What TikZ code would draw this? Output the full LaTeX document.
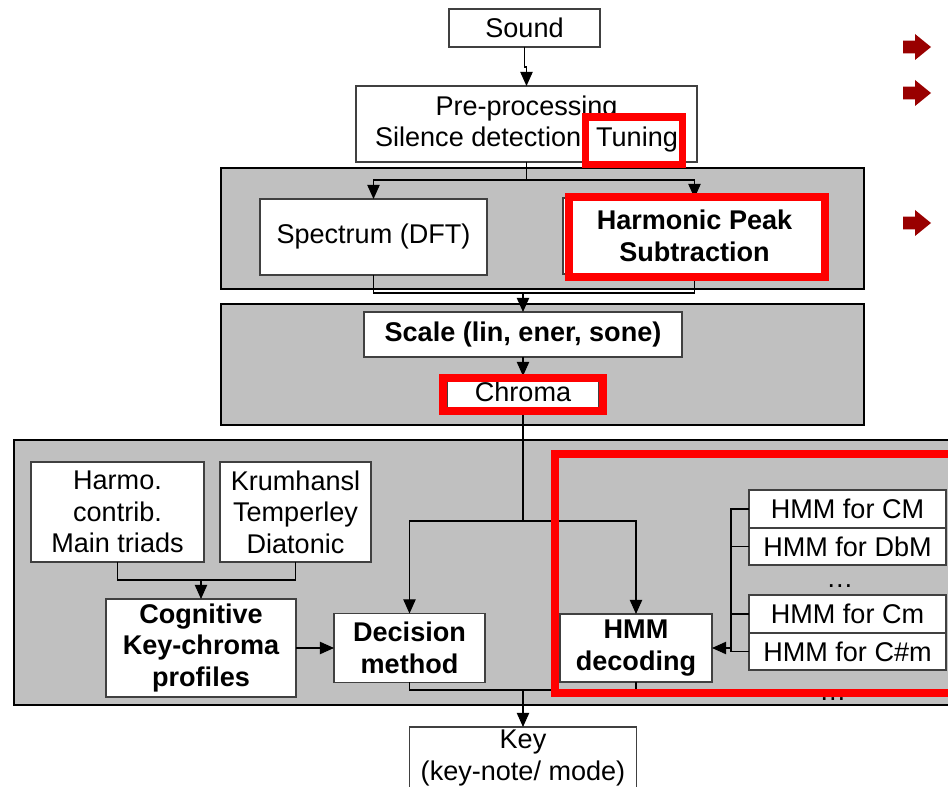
\documentclass[tikz,border=0pt]{standalone}
\usepackage{fontspec}
\setmainfont{Liberation Sans}
\usetikzlibrary{arrows.meta}
\definecolor{panelgray}{HTML}{C0C0C0}
\definecolor{boxline}{HTML}{404040}
\definecolor{bulletred}{HTML}{990000}
\newcommand\diagfont{\fontsize{15.4pt}{17.9pt}\selectfont}

\begin{document}
\begin{tikzpicture}[x=0.02cm, y=-0.02cm,
  panel/.style={fill=panelgray, draw=black, line width=0.6pt},
  box/.style={draw=boxline, fill=white, line width=0.6pt, inner sep=0pt,
    outer sep=0pt, align=center, font=\diagfont},
  bbox/.style={box, font=\diagfont\bfseries},
  sz/.style 2 args={minimum width=#1*0.02cm, minimum height=#2*0.02cm},
  conn/.style={draw=black, line width=0.6pt},
  arr/.style={conn, -{Triangle[length=8pt,width=7pt]}},
  hilite/.style={draw=red, line width=4pt},
  dots/.style={font=\diagfont, inner sep=0pt, anchor=base}]

\useasboundingbox (0,0) rectangle (948,787);
\clip (0,0) rectangle (948,787);

% grey processing panels
\draw[panel] (221,168) rectangle (864,289);
\draw[panel] (221,304) rectangle (864,425);
\draw[panel] (14,440) rectangle (990,705);

% boxes
\node[box, sz={151}{38}]  (sound)    at (524.5,28)  {Sound};
\node[box, sz={341}{76}]  (pre)      at (526.5,124) {Pre-processing\\Silence detection, Tuning};
\node[box, sz={227}{76}]  (spectrum) at (373.5,237) {Spectrum (DFT)};
\node[bbox, sz={263}{76}] (hps)      at (694.5,236) {Harmonic Peak\\Subtraction};
\node[bbox, sz={318}{45}] (scale)    at (523,334.5) {Scale (lin, ener, sone)};
\node[box, sz={152}{32}]  (chroma)   at (523,392)   {Chroma};

\node[box, sz={173}{100}] (harmo)    at (117.5,512) {Harmo.\\contrib.\\Main triads};
\node[box, sz={151}{100}] (krum)     at (295.5,512) {Krumhansl\\Temperley\\Diatonic};
\node[bbox, sz={190}{98}] (cog)      at (201,648)   {Cognitive\\Key-chroma\\profiles};
\node[bbox, sz={151}{69}] (dec)      at (409.5,648) {Decision\\method};
\node[bbox, sz={152}{68}] (hmmdec)   at (636,648)   {HMM\\decoding};

\node[box, sz={197}{38}]  (hcm)      at (847.5,509)   {HMM for CM};
\node[box, sz={197}{37}]  (hdbm)     at (847.5,546.5) {HMM for DbM};
\node[dots]               (dotsa)    at (840,588)     {…};
\node[box, sz={197}{38}]  (hcmm)     at (847.5,614)   {HMM for Cm};
\node[box, sz={197}{37}]  (hcsm)     at (847.5,651.5) {HMM for C\#m};
\node[dots]               (dotsb)    at (833,701)     {…};

\node[box, sz={227}{62}]  (key)      at (523,758)   {Key\\(key-note/ mode)};

% signal flow
\draw[arr] (sound.south) -- ++(0,20) -| (pre.north);

\coordinate (s1) at (526.5,180);
\draw[conn] (pre.south) -- (s1);
\draw[arr] (s1) -| (spectrum.north);
\draw[arr] (s1) -| (hps.north);

\coordinate (m1) at (523,293);
\draw[conn] (spectrum.south) |- (m1);
\draw[conn] (hps.south) |- (m1);
\draw[arr] (m1) -- (scale.north);

\draw[arr] (scale.south) -- (chroma.north);

\coordinate (s2) at (523,521);
\draw[conn] (chroma.south) -- (s2);
\draw[arr] (s2) -| (dec.north);
\draw[arr] (s2) -| (hmmdec.north);

\coordinate (m3) at (201,580);
\draw[conn] (harmo.south) |- (m3);
\draw[conn] (krum.south) |- (m3);
\draw[arr] (m3) -- (cog.north);
\draw[arr] (cog.east) -- (dec.west);

\coordinate (br) at (731,648);
\draw[conn] (hcm.west) -- (hcm.west -| br) -- (hcsm.west -| br) -- (hcsm.west);
\draw[conn] (hdbm.west) -- (hdbm.west -| br);
\draw[conn] (hcmm.west) -- (hcmm.west -| br);
\draw[arr] (br) -- (hmmdec.east);

\coordinate (m2) at (523,690);
\draw[conn] (dec.south) |- (m2);
\draw[conn] (hmmdec.south) |- (m2);
\draw[arr] (m2) -- (key.north);

% red highlights
\draw[hilite] (585.5,117) rectangle (682.5,164.5);
\draw[hilite] (569,197) rectangle (825,277);
\draw[hilite] (443,378) rectangle (603,411);
\draw[hilite] (555,454) rectangle (1000,693);

% bullet arrows
\foreach \yy in {47,93,223}
  \fill[bulletred] (903,\yy-6.3) -- (915,\yy-6.3) -- (915,\yy-13) -- (931,\yy)
    -- (915,\yy+13) -- (915,\yy+6.3) -- (903,\yy+6.3) -- cycle;
\end{tikzpicture}
\end{document}
